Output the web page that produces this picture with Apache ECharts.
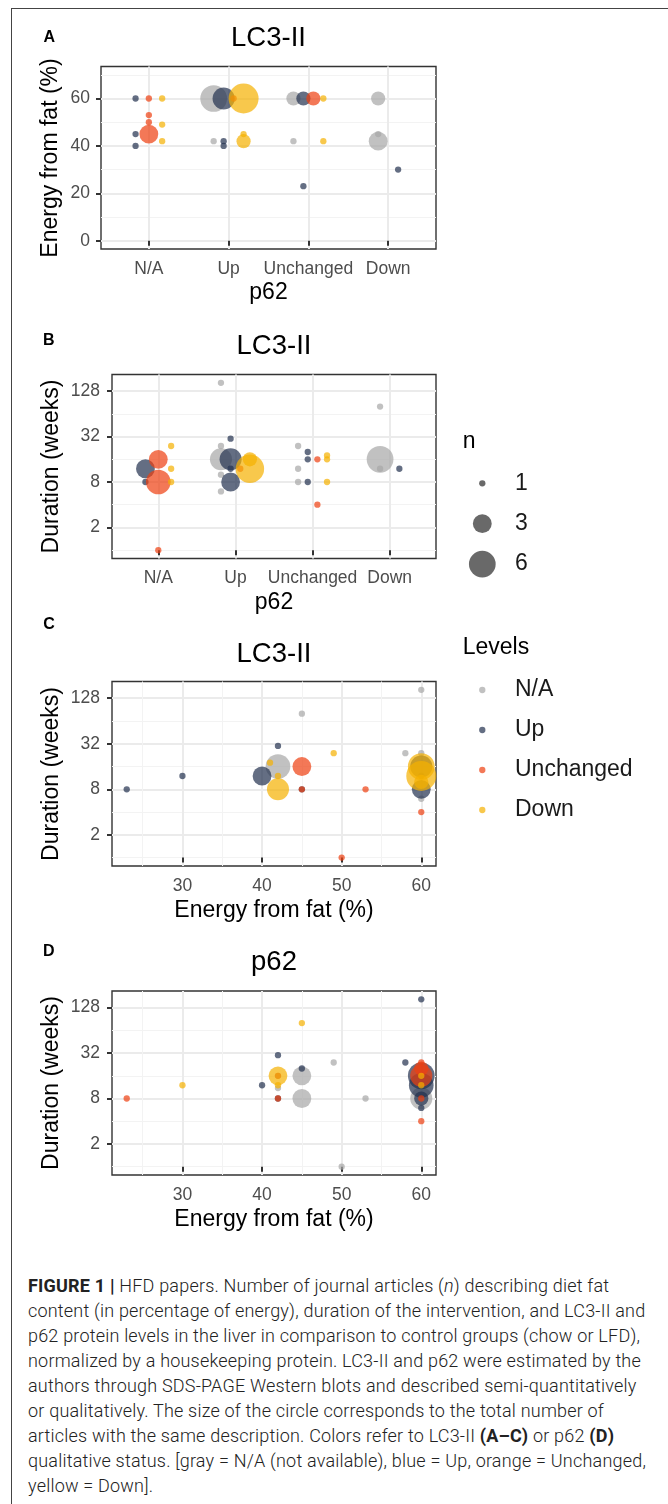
<!DOCTYPE html>
<html><head><meta charset="utf-8">
<script src="https://cdn.jsdelivr.net/npm/echarts@6/dist/echarts.min.js"></script>
<style>
html,body{margin:0;padding:0;background:#fff;width:668px;height:1504px;overflow:hidden;}
#frame{position:absolute;left:11px;top:8px;width:700px;height:1600px;border-top:1.5px solid #444;border-left:1.5px solid #444;}
#chart{position:absolute;left:0;top:0;width:668px;height:1260px;}
#caption{position:absolute;left:28px;top:1273px;width:640px;font-family:Roboto,"Liberation Sans",sans-serif;font-weight:300;font-size:18px;letter-spacing:0.2px;line-height:25px;color:#222;white-space:nowrap;}
#caption b{font-weight:700;}
</style></head><body>
<div id="frame"></div>
<div id="chart"></div>
<div id="caption"><b>FIGURE 1 |</b> HFD papers. Number of journal articles (<i>n</i>) describing diet fat<br>content (in percentage of energy), duration of the intervention, and LC3-II and<br>p62 protein levels in the liver in comparison to control groups (chow or LFD),<br>normalized by a housekeeping protein. LC3-II and p62 were estimated by the<br>authors through SDS-PAGE Western blots and described semi-quantitatively<br>or qualitatively. The size of the circle corresponds to the total number of<br>articles with the same description. Colors refer to LC3-II <b>(A–C)</b> or p62 <b>(D)</b><br>qualitative status. [gray = N/A (not available), blue = Up, orange = Unchanged,<br>yellow = Down].</div>
<script>
// ---------- data ----------
const p62Cats = ['N/A', 'Up', 'Unchanged', 'Down'];
const levelNames = ['N/A', 'Up', 'Unchanged', 'Down'];
const energyTicksA = [0, 20, 40, 60];
const energyMinorA = [10, 30, 50, 70];
const energyTicks = [30, 40, 50, 60];
const energyMinor = [25, 35, 45, 55];
const durationTicks = [2, 8, 32, 128];
const durationMinor = [1, 4, 16, 64];
const sizeBreaks = [1, 3, 6];

// Panel A: [p62 status, energy from fat %, n]  (colour = LC3-II status)
const A_NA = [['Up',60,6],['Up',42,1],['Unchanged',60,2],['Unchanged',42,1],['Down',60,2],['Down',45,1],['Down',42,3]];
const A_Up = [['N/A',60,1],['N/A',45,1],['N/A',40,1],['Up',60,4],['Up',42,1],['Up',40,1],['Unchanged',60,2],['Unchanged',23,1],['Down',30,1]];
const A_Unchanged = [['N/A',60,1],['N/A',53,1],['N/A',50,1],['N/A',45,3],['Up',60,1],['Unchanged',60,2]];
const A_Down = [['N/A',60,1],['N/A',49,1],['N/A',42,1],['Up',60,8],['Up',45,1],['Up',42,2],['Unchanged',60,1],['Unchanged',42,1]];

// Panel B: [p62 status, duration weeks, n]  (colour = LC3-II status)
const B_NA = [['Up',165,1],['Up',24,1],['Up',16,4],['Up',10,1],['Up',6,1],['Unchanged',24,1],['Unchanged',12,1],['Unchanged',8,1],['Down',80,1],['Down',16,6],['Down',12,1]];
const B_Up = [['N/A',12,3],['N/A',8,1],['Up',30,1],['Up',16,4],['Up',12,1],['Up',8,3],['Unchanged',20,1],['Unchanged',16,1],['Unchanged',8,1],['Down',12,1]];
const B_Unchanged = [['N/A',16,3],['N/A',8,5],['N/A',1,1],['Up',12,1],['Unchanged',16,1],['Unchanged',4,1]];
const B_Down = [['N/A',24,1],['N/A',12,1],['N/A',8,1],['Up',16,2],['Up',12,7],['Unchanged',18,1],['Unchanged',16,1],['Unchanged',8,1]];

// Panel C: [energy %, duration weeks, n]  (colour = LC3-II status)
const C_NA = [[42,16,5],[45,80,1],[58,24,1],[60,165,1],[60,24,1],[60,6,1]];
const C_Up = [[23,8,1],[30,12,1],[40,12,3],[42,30,1],[45,8,1],[60,16,4],[60,12,1],[60,8,3]];
const C_Unchanged = [[45,16,3],[45,8,1],[50,1,1],[53,8,1],[60,4,1]];
const C_Down = [[41,18,1],[42,12,1],[42,8,4],[49,24,1],[60,16,6],[60,12,8],[60,10,2]];

// Panel D: [energy %, duration weeks, n]  (colour = p62 status)
const D_NA = [[42,16,1],[42,11,1],[45,16,3],[45,8,3],[49,24,1],[50,1,1],[53,8,1],[60,8,4]];
const D_Up = [[40,12,1],[42,30,1],[42,8,1],[45,20,1],[58,24,1],[60,165,1],[60,16,6],[60,12,5],[60,8,2],[60,6,1]];
const D_Unchanged = [[23,8,1],[42,16,1],[42,8,1],[60,24,1],[60,20,2],[60,16,4],[60,8,1],[60,4,1]];
const D_Down = [[30,12,1],[42,16,3],[42,12,1],[45,80,1],[60,16,1],[60,12,1]];

// ---------- styles ----------
const levelColors = ['#A6A6A6', '#22304F', '#EE3E10', '#F5B000'];
const FONT = '"Liberation Sans", Arial, sans-serif';
const ALPHA = 0.7;
const sizeOf = n => 6.3 + 11.4 * Math.log(n);
const lg = Math.log2;

const grids = [
  {left: 101, top: 66.5, width: 335, height: 182.5},
  {left: 112, top: 374.5, width: 324, height: 184},
  {left: 112, top: 681.5, width: 324, height: 184.5},
  {left: 112, top: 991, width: 324, height: 184}
].map(g => Object.assign({show: true, borderColor: '#333', borderWidth: 1.4, backgroundColor: '#fff', containLabel: false}, g));

const majorSplit = {show: true, lineStyle: {color: '#EBEBEB', width: 2}};
const minorSplit = {show: true, lineStyle: {color: '#F3F3F3', width: 1}};

function majorAxis(pos, gridIndex, min, max, ticks, fmt, margin) {
  return {type: 'value', position: pos, gridIndex, min, max, offset: 0,
    axisLine: {show: false},
    axisTick: {show: true, customValues: ticks, length: 5, lineStyle: {color: '#333', width: 2}},
    axisLabel: {show: true, customValues: ticks, formatter: fmt, color: '#4D4D4D', fontSize: 17.5, fontFamily: FONT, margin},
    splitLine: majorSplit};
}
function minorAxis(pos, gridIndex, min, max, ticks) {
  return {type: 'value', position: pos, gridIndex, min, max, offset: 0,
    axisLine: {show: false},
    axisTick: {show: false, customValues: ticks},
    axisLabel: {show: false, customValues: ticks},
    splitLine: minorSplit};
}
const catFmt = v => p62Cats[Math.round(v) - 1];
const durFmt = v => String(Math.round(Math.pow(2, v)));
const catTicks = p62Cats.map((c, i) => i + 1);
const durLo = -0.368, durHi = 7.734;
const enLo = 21.15, enHi = 61.85;

const xAxis = [
  majorAxis('bottom', 0, 0.4, 4.6, catTicks, catFmt, 11),
  majorAxis('bottom', 1, 0.4, 4.6, catTicks, catFmt, 11),
  minorAxis('bottom', 2, enLo, enHi, energyMinor),
  majorAxis('bottom', 2, enLo, enHi, energyTicks, v => String(v), 11),
  minorAxis('bottom', 3, enLo, enHi, energyMinor),
  majorAxis('bottom', 3, enLo, enHi, energyTicks, v => String(v), 11)
];
const yAxis = [
  minorAxis('left', 0, -3.5, 73.5, energyMinorA),
  majorAxis('left', 0, -3.5, 73.5, energyTicksA, v => String(v), 11),
  minorAxis('left', 1, durLo, durHi, durationMinor.map(lg)),
  majorAxis('left', 1, durLo, durHi, durationTicks.map(lg), durFmt, 12),
  minorAxis('left', 2, durLo, durHi, durationMinor.map(lg)),
  majorAxis('left', 2, durLo, durHi, durationTicks.map(lg), durFmt, 12),
  minorAxis('left', 3, durLo, durHi, durationMinor.map(lg)),
  majorAxis('left', 3, durLo, durHi, durationTicks.map(lg), durFmt, 12)
];

// dodge points of each p62 category among the colour groups present there
function dodge(groups, yf) {
  const out = groups.map(() => []);
  p62Cats.forEach((cat, ci) => {
    const present = [];
    groups.forEach((g, gi) => { if (g.some(r => r[0] === cat)) present.push(gi); });
    const k = present.length;
    present.forEach((gi, j) => {
      const off = ((j + 0.5) / k - 0.5) * 0.5;
      groups[gi].filter(r => r[0] === cat).forEach(r => out[gi].push([ci + 1 + off, yf(r[1]), r[2]]));
    });
  });
  return out;
}

function scatter(li, data, xi, yi) {
  return {type: 'scatter', name: levelNames[li], xAxisIndex: xi, yAxisIndex: yi, data,
    symbol: 'circle', symbolSize: v => sizeOf(v[2]),
    itemStyle: {color: levelColors[li], opacity: ALPHA},
    emphasis: {disabled: true}, silent: true, clip: false, animation: false};
}

const series = [];
dodge([A_NA, A_Up, A_Unchanged, A_Down], v => v).forEach((d, li) => series.push(scatter(li, d, 0, 1)));
dodge([B_NA, B_Up, B_Unchanged, B_Down], lg).forEach((d, li) => series.push(scatter(li, d, 1, 3)));
[C_NA, C_Up, C_Unchanged, C_Down].forEach((g, li) => series.push(scatter(li, g.map(r => [r[0], lg(r[1]), r[2]]), 3, 5)));
[D_NA, D_Up, D_Unchanged, D_Down].forEach((g, li) => series.push(scatter(li, g.map(r => [r[0], lg(r[1]), r[2]]), 5, 7)));
sizeBreaks.forEach(n => series.push({type: 'scatter', name: String(n), xAxisIndex: 0, yAxisIndex: 1, data: [],
  itemStyle: {color: '#2A2A2A', opacity: ALPHA}, silent: true}));

// legends: icon centred at x=482.3, text starting at x=515
const legTextStyle = {fontSize: 23, fontFamily: FONT, color: '#1A1A1A'};
const iconCx = 482.3, textX = 515;
function legendAt(names, h, cy, extra) {
  const row = Math.max(h, 23);
  return Object.assign({data: names, left: iconCx - h / 2, top: cy - row / 2, padding: 0,
    itemWidth: h, itemHeight: h, icon: 'circle', selectedMode: false,
    itemStyle: {opacity: ALPHA},
    textStyle: Object.assign({padding: [0, 0, 0, textX - (iconCx + h / 2 + 5)]}, legTextStyle)}, extra || {});
}
const legend = sizeBreaks.map((n, i) => legendAt([String(n)], sizeOf(n), 483.3 + i * 40.4));
legend.push(legendAt(levelNames, sizeOf(1), 690, {orient: 'vertical', itemGap: 17}));

// texts
function txt(text, x, y, size, o) {
  o = o || {};
  return {type: 'text', x, y, rotation: o.rot || 0, silent: true, z: 100,
    style: {text, fontSize: size, fontFamily: FONT, fontWeight: o.bold ? 'bold' : 'normal', fill: '#000',
      align: o.align || 'center', verticalAlign: 'middle', textAlign: o.align || 'center', textVerticalAlign: 'middle'}};
}
const R = Math.PI / 2;
const graphic = [
  txt('A', 43.5, 37.2, 16, {bold: true, align: 'left'}),
  txt('B', 43, 340.8, 16, {bold: true, align: 'left'}),
  txt('C', 43.3, 625, 16, {bold: true, align: 'left'}),
  txt('D', 43, 952, 16, {bold: true, align: 'left'}),
  txt('LC3-II', 268.5, 38, 27.5),
  txt('LC3-II', 274, 346.7, 27.5),
  txt('LC3-II', 274, 654, 27.5),
  txt('p62', 274, 962, 27.5),
  txt('p62', 268.5, 293, 23),
  txt('p62', 274, 603, 23),
  txt('Energy from fat (%)', 274, 911, 23),
  txt('Energy from fat (%)', 274, 1220, 23),
  txt('Energy from fat (%)', 51, 158, 23, {rot: R}),
  txt('Duration (weeks)', 51.5, 466.5, 23, {rot: R}),
  txt('Duration (weeks)', 51.5, 774, 23, {rot: R}),
  txt('Duration (weeks)', 51.5, 1083, 23, {rot: R}),
  txt('n', 462.7, 442, 23, {align: 'left'}),
  txt('Levels', 462.7, 648, 23, {align: 'left'})
];

const chart = echarts.init(document.getElementById('chart'));
chart.setOption({animation: false, grid: grids, xAxis, yAxis, series, legend, graphic});
</script>
</body></html>
